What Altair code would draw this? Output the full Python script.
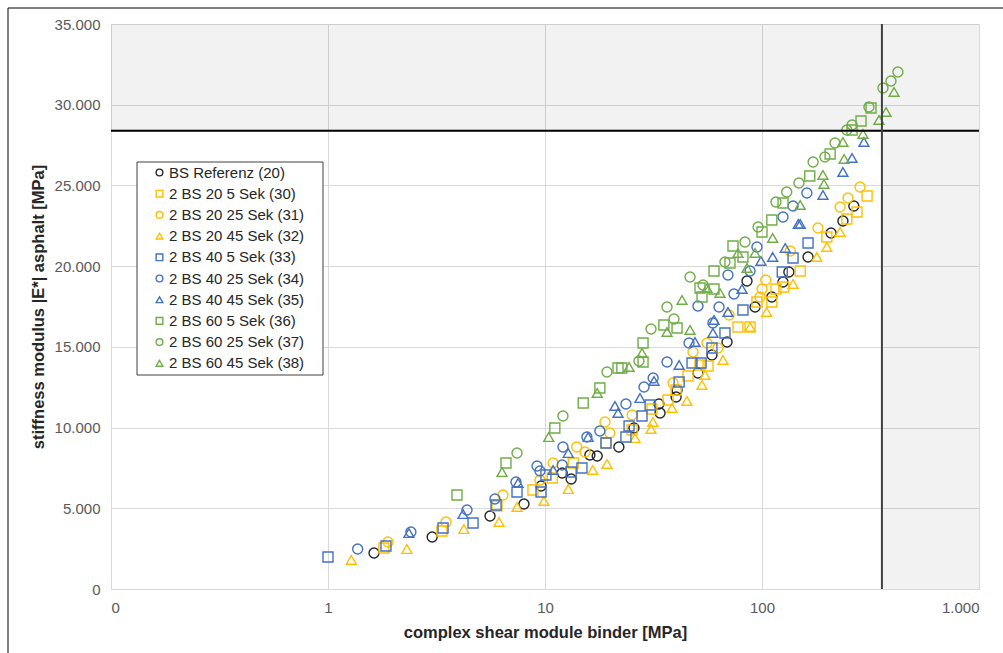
import altair as alt
import pandas as pd

# Series names, colours and marker shapes (legend order)
SERIES = [
    "BS Referenz (20)",
    "2 BS 20 5 Sek (30)",
    "2 BS 20 25 Sek (31)",
    "2 BS 20 45 Sek (32)",
    "2 BS 40 5 Sek (33)",
    "2 BS 40 25 Sek (34)",
    "2 BS 40 45 Sek (35)",
    "2 BS 60 5 Sek (36)",
    "2 BS 60 25 Sek (37)",
    "2 BS 60 45 Sek (38)",
]
COLORS = ["#262626", "#FFC000", "#FFC000", "#FFC000",
          "#4472C4", "#4472C4", "#4472C4",
          "#70AD47", "#70AD47", "#70AD47"]
SHAPES = ["circle", "square", "circle", "triangle-up",
          "square", "circle", "triangle-up",
          "square", "circle", "triangle-up"]

# complex shear modulus of binder |G*| [MPa] and stiffness modulus |E*| [MPa]
g_20 = [1.63, 3.02, 5.58, 8.0, 9.59, 12.0, 13.2, 16.1, 17.4, 21.9, 25.7, 33.5, 33.9,
        40.6, 40.2, 50.7, 58.8, 69.0, 85.3, 92.9, 111, 125, 133, 163, 208, 236, 265]
e_20 = [2230, 3221, 4522, 5266, 6381, 7186, 6815, 8301, 8239, 8797, 9974, 11461, 10903,
        12328, 11894, 13381, 14496, 15302, 19081, 17470, 18089, 19019, 19638, 20567,
        22054, 22798, 23727]

g_30 = [1.81, 3.35, 6.01, 8.80, 10.8, 13.5, 19.1, 25.2, 31.1, 36.9, 40.2, 45.6, 51.8,
        56.4, 77.5, 88.1, 94.8, 111, 116, 126, 150, 199, 246, 274, 305]
e_30 = [2540, 3593, 5142, 6133, 6876, 7806, 9045, 9850, 11151, 11709, 12328, 13195,
        13877, 13815, 16231, 16231, 17780, 17780, 18585, 18709, 19700, 21806, 22922,
        23355, 24346]

g_31 = [1.89, 3.50, 6.40, 9.48, 10.9, 14.0, 15.3, 18.9, 19.9, 25.2, 38.9, 48.1, 55.8,
        62.7, 70.5, 97.9, 100, 104, 135, 181, 229, 249, 283]
e_31 = [2912, 4151, 5823, 6753, 7806, 8797, 8487, 10346, 9664, 10779, 12762, 14682,
        15240, 14930, 16974, 18089, 18585, 19143, 20939, 22364, 23665, 24222, 24904]

g_32 = [1.28, 2.31, 4.23, 6.14, 7.43, 9.89, 12.8, 16.6, 19.3, 26.0, 30.8, 31.4, 38.5,
        45.1, 52.9, 54.6, 66.1, 88.1, 105, 139, 179, 199, 229]
e_32 = [1797, 2478, 3717, 4151, 5080, 5452, 6195, 7372, 7744, 9354, 9912, 10346, 11213,
        11647, 12638, 13257, 14187, 16231, 17160, 18895, 20567, 21187, 22116]

g_33 = [1.0, 1.85, 3.39, 4.66, 5.95, 7.43, 9.59, 10.1, 13.2, 14.8, 19.1, 23.6, 24.4,
        28.0, 30.5, 41.5, 47.6, 52.4, 58.8, 67.5, 81.7, 124, 139, 163]
e_33 = [1982, 2664, 3779, 4089, 5204, 6009, 6009, 7062, 7248, 7496, 9045, 9416, 10098,
        10717, 11399, 12824, 14001, 14001, 14930, 15859, 17284, 19638, 20505, 21435]

g_34 = [1.37, 2.41, 4.37, 5.88, 7.35, 9.19, 9.48, 12.1, 12.0, 15.6, 17.9, 23.6, 28.6,
        31.5, 36.5, 46.1, 50.7, 59.4, 63.4, 69.7, 74.3, 88.1, 94.8, 125, 139, 161]
e_34 = [2478, 3531, 4894, 5575, 6629, 7620, 7310, 8797, 7682, 9416, 9788, 11461, 12514,
        13071, 14063, 15240, 17532, 16479, 17470, 19452, 18275, 19700, 21187, 23045,
        23727, 24532]

g_35 = [2.36, 4.19, 7.51, 10.9, 12.8, 15.8, 21.0, 21.7, 27.4, 31.8, 41.5, 49.1, 59.4,
        60.1, 69.7, 80.9, 98.9, 112, 128, 147, 150, 191, 236, 260, 295]
e_35 = [3469, 4646, 6567, 7372, 8425, 9416, 11337, 10903, 11832, 12886, 13877, 15302,
        15859, 16665, 17160, 18585, 20320, 20567, 21125, 22612, 22612, 24408, 25833,
        26700, 27692]

g_36 = [3.93, 6.61, 11.1, 15.0, 17.9, 21.7, 22.6, 28.3, 28.3, 35.3, 40.6, 51.8, 52.9,
        60.1, 60.1, 71.2, 73.5, 81.7, 100, 111, 125, 166, 206, 260, 286, 318]
e_36 = [5823, 7806, 9974, 11523, 12452, 13691, 13691, 15240, 14063, 16355, 16169, 18647,
        18089, 19700, 18585, 20196, 21249, 20567, 22116, 22860, 23913, 25585, 26948,
        28435, 28993, 29798]

g_37 = [7.43, 12.1, 19.3, 27.1, 30.8, 36.5, 39.3, 46.6, 53.5, 67.5, 83.5, 95.9, 116,
        130, 148, 172, 195, 217, 246, 260, 311, 361, 393, 423]
e_37 = [8425, 10717, 13443, 14125, 16107, 17470, 16726, 19328, 18833, 20258, 21497,
        22425, 23974, 24594, 25151, 26452, 26762, 27630, 28435, 28745, 29860, 31037,
        31471, 32028]

g_38 = [6.34, 10.4, 17.4, 24.4, 28.0, 36.5, 42.8, 46.6, 55.8, 64.0, 77.5, 85.3, 92.9,
        112, 150, 191, 193, 239, 236, 292, 346, 373, 406]
e_38 = [7248, 9416, 12142, 13753, 14620, 15921, 17904, 16045, 18647, 18337, 20815,
        19886, 20815, 21744, 23789, 25647, 25090, 26639, 27692, 28187, 29055, 29550,
        30789]

G_VALUES = [g_20, g_30, g_31, g_32, g_33, g_34, g_35, g_36, g_37, g_38]
E_VALUES = [e_20, e_30, e_31, e_32, e_33, e_34, e_35, e_36, e_37, e_38]

# limit values (binder and asphalt)
LIMIT_G = 357
LIMIT_E = 28380
X_MIN, X_MAX = 0.1, 1000
Y_MIN, Y_MAX = 0, 35000

rows = []
for name, gs, es in zip(SERIES, G_VALUES, E_VALUES):
    for g, e in zip(gs, es):
        rows.append({"series": name, "g": g, "e": e})
points_df = pd.DataFrame(rows)

shade_df = pd.DataFrame([
    {"x": X_MIN, "x2": X_MAX, "y": LIMIT_E, "y2": Y_MAX},
    {"x": LIMIT_G, "x2": X_MAX, "y": Y_MIN, "y2": LIMIT_E},
])

FONT = "Liberation Sans"
thousands = "replace(format(datum.value, ','), ',', '.')"

x_scale = alt.Scale(type="log", domain=[X_MIN, X_MAX], nice=False)
y_scale = alt.Scale(domain=[Y_MIN, Y_MAX], nice=False)

x_axis = alt.Axis(
    title="complex shear module binder [MPa]",
    values=[0.1, 1, 10, 100, 1000],
    labelExpr="datum.value < 0.5 ? '0' : " + thousands,
    labelPadding=11, titlePadding=9,
)
y_axis = alt.Axis(
    title="stiffness modulus |E*| asphalt [MPa]",
    values=list(range(0, 35001, 5000)),
    labelExpr=thousands,
    labelPadding=11, titlePadding=8,
)

shade = alt.Chart(shade_df).mark_rect(color="#000000", opacity=0.05).encode(
    x=alt.X("x:Q", scale=x_scale, axis=x_axis),
    x2="x2:Q",
    y=alt.Y("y:Q", scale=y_scale, axis=y_axis),
    y2="y2:Q",
)

pts = alt.Chart(points_df).mark_point(filled=False, size=100, strokeWidth=1.4, opacity=1).encode(
    x=alt.X("g:Q", scale=x_scale, axis=x_axis),
    y=alt.Y("e:Q", scale=y_scale, axis=y_axis),
    color=alt.Color("series:N", scale=alt.Scale(domain=SERIES, range=COLORS),
                    legend=alt.Legend(title=None)),
    shape=alt.Shape("series:N", scale=alt.Scale(domain=SERIES, range=SHAPES),
                    legend=alt.Legend(title=None)),
)

h_line = alt.Chart(pd.DataFrame({"e": [LIMIT_E]})).mark_rule(color="#000000", strokeWidth=2).encode(
    y=alt.Y("e:Q", scale=y_scale)
)
v_line = alt.Chart(pd.DataFrame({"g": [LIMIT_G]})).mark_rule(color="#404040", strokeWidth=2).encode(
    x=alt.X("g:Q", scale=x_scale)
)

one = pd.DataFrame({"k": [0]})

# legend box behind the legend entries
legend_box = alt.Chart(one).mark_rect(fill="#ffffff", stroke="#404040", strokeWidth=1).encode(
    x=alt.value(26), x2=alt.value(212), y=alt.value(138), y2=alt.value(351)
)

# outer chart frame (left and top edges)
frame_left = alt.Chart(one).mark_rule(color="#000000", strokeWidth=1).encode(
    x=alt.value(-103), y=alt.value(-16), y2=alt.value(660)
)
frame_top = alt.Chart(one).mark_rule(color="#000000", strokeWidth=1).encode(
    x=alt.value(-103), x2=alt.value(900), y=alt.value(-16)
)

chart = alt.layer(shade, pts, h_line, v_line, legend_box, frame_left, frame_top).properties(
    width=868, height=565,
    autosize=alt.AutoSizeParams(type="none"),
    padding={"left": 111, "top": 24, "right": 24, "bottom": 64},
    background="#ffffff",
).configure_view(
    stroke="#d9d9d9", strokeWidth=1
).configure_axis(
    labelFont=FONT, labelFontSize=15, labelColor="#595959",
    titleFont=FONT, titleFontSize=16.5, titleFontWeight="bold", titleColor="#262626",
    grid=True, gridColor="#d9d9d9", gridWidth=1,
    domain=False, ticks=False,
).configure_legend(
    orient="none", legendX=41, legendY=141,
    padding=0,
    labelFont=FONT, labelFontSize=15, labelColor="#262626",
    symbolSize=45, symbolStrokeWidth=1.4, rowPadding=5.2, labelOffset=2,
    symbolType="circle",
)

chart.save("out.html", embed_options={"renderer": "svg", "actions": False})
